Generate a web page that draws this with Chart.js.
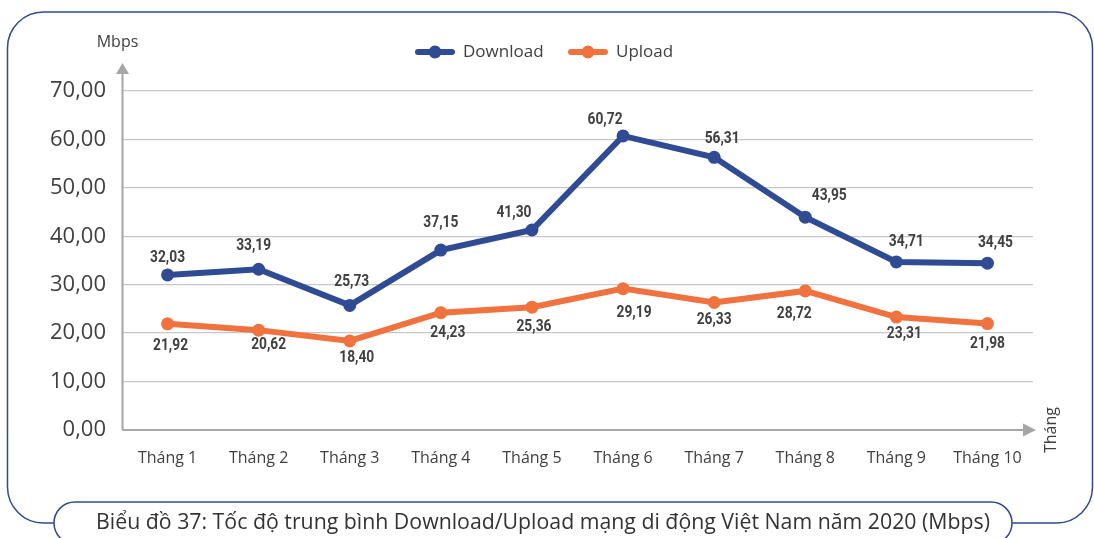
<!DOCTYPE html>
<html>
<head>
<meta charset="utf-8">
<script src="https://cdn.jsdelivr.net/npm/chart.js@4.4.1/dist/chart.umd.min.js"></script>
<style>
  html, body { margin: 0; padding: 0; background: #ffffff; }
  #wrap { width: 1094px; height: 538px; position: relative; }
</style>
</head>
<body>
<div id="wrap"><canvas id="chart" width="1094" height="538"></canvas></div>
<script>
// Monthly average mobile speeds, Vietnam 2020 (Mbps)
const months = ['Tháng 1', 'Tháng 2', 'Tháng 3', 'Tháng 4', 'Tháng 5',
                'Tháng 6', 'Tháng 7', 'Tháng 8', 'Tháng 9', 'Tháng 10'];
const downloadMbps = [32.03, 33.19, 25.73, 37.15, 41.30, 60.72, 56.31, 43.95, 34.71, 34.45];
const uploadMbps   = [21.92, 20.62, 18.40, 24.23, 25.36, 29.19, 26.33, 28.72, 23.31, 21.98];
const yTickValues  = [0, 10, 20, 30, 40, 50, 60, 70];

const seriesNames = ['Download', 'Upload'];
const caption = 'Biểu đồ 37: Tốc độ trung bình Download/Upload mạng di động Việt Nam năm 2020 (Mbps)';
const yUnit = 'Mbps';
const xUnit = 'Tháng';

// Styling
const BLUE = '#2F4B93';
const ORANGE = '#F0733F';
const FRAME = '#2E4A94';
const TEXT = '#404040';
const AXIS = '#A6A6A6';
const GRID = '#C8C8C8';

// Per-point nudges [dx, dy] for the value labels, in pixels
const downloadLabelNudge = [[0,-17],[-5,-23],[2,-23],[0,-27],[-18,-17],[-18,-16],[8,-18],[24,-21],[10,-20],[8,-20]];
const uploadLabelNudge   = [[3,22],[10,15],[7,17],[7,20],[2,20],[11,24],[0,18],[-11,23],[8,17],[0,20]];

const fmt = v => v.toFixed(2).replace('.', ',');

// Rounded outer frame, caption pill and caption text
const framePlugin = {
  id: 'frame',
  beforeDraw(chart) {
    const ctx = chart.ctx;
    ctx.save();
    ctx.fillStyle = '#ffffff';
    ctx.fillRect(0, 0, chart.width, chart.height);

    const L = 7.5, T = 12, R = 1092.5, B = 523, r = 36;
    const pillL = 54, pillR = 1012, pillTop = 502, pr = 21;
    ctx.strokeStyle = FRAME;
    ctx.lineWidth = 1.5;

    ctx.beginPath();
    ctx.moveTo(pillL, B);
    ctx.lineTo(L + r, B);
    ctx.arcTo(L, B, L, B - r, r);
    ctx.lineTo(L, T + r);
    ctx.arcTo(L, T, L + r, T, r);
    ctx.lineTo(R - r, T);
    ctx.arcTo(R, T, R, T + r, r);
    ctx.lineTo(R, B - r);
    ctx.arcTo(R, B, R - r, B, r);
    ctx.lineTo(pillR, B);
    ctx.stroke();

    // caption pill (stadium, cut by the bottom edge)
    ctx.beginPath();
    ctx.arc(pillL + pr, pillTop + pr, pr, Math.PI * 0.5, Math.PI * 1.5);
    ctx.lineTo(pillR - pr, pillTop);
    ctx.arc(pillR - pr, pillTop + pr, pr, Math.PI * 1.5, Math.PI * 2.5);
    ctx.stroke();

    ctx.fillStyle = '#333333';
    ctx.font = '21.3px "Open Sans"';
    ctx.textAlign = 'center';
    ctx.textBaseline = 'middle';
    ctx.fillText(caption, (pillL + pillR) / 2 + 10, 523);
    ctx.restore();
  },
  // axis lines with arrow heads, unit labels
  beforeDatasetsDraw(chart) {
    const ctx = chart.ctx;
    const a = chart.chartArea;
    const x0 = a.left + 0.5, y0 = a.bottom;
    ctx.save();
    ctx.strokeStyle = AXIS;
    ctx.fillStyle = AXIS;
    ctx.lineWidth = 2;
    ctx.beginPath();
    ctx.moveTo(x0, y0);
    ctx.lineTo(x0, a.top - 18);
    ctx.moveTo(x0, y0);
    ctx.lineTo(a.right - 10, y0);
    ctx.stroke();
    ctx.beginPath();
    ctx.moveTo(x0, a.top - 28);
    ctx.lineTo(x0 - 6.5, a.top - 17);
    ctx.lineTo(x0 + 6.5, a.top - 17);
    ctx.closePath();
    ctx.fill();
    ctx.beginPath();
    ctx.moveTo(a.right + 3, y0);
    ctx.lineTo(a.right - 10, y0 - 6.5);
    ctx.lineTo(a.right - 10, y0 + 6.5);
    ctx.closePath();
    ctx.fill();

    ctx.fillStyle = TEXT;
    ctx.font = '16px "Open Sans"';
    ctx.textAlign = 'center';
    ctx.textBaseline = 'middle';
    ctx.fillText(yUnit, x0 - 5, 42);
    ctx.translate(1051, 430);
    ctx.rotate(-Math.PI / 2);
    ctx.fillText(xUnit, 0, 0);
    ctx.restore();
  },
  // value labels beside each point
  afterDatasetsDraw(chart) {
    const ctx = chart.ctx;
    const nudges = [downloadLabelNudge, uploadLabelNudge];
    ctx.save();
    ctx.fillStyle = TEXT;
    ctx.font = 'bold 16px Roboto';
    ctx.textAlign = 'center';
    ctx.textBaseline = 'middle';
    chart.data.datasets.forEach((ds, di) => {
      const meta = chart.getDatasetMeta(di);
      meta.data.forEach((pt, i) => {
        const [dx, dy] = nudges[di][i];
        ctx.save();
        ctx.translate(pt.x + dx, pt.y + dy);
        ctx.scale(0.86, 1);
        ctx.fillText(fmt(ds.data[i]), 0, 0);
        ctx.restore();
      });
    });
    ctx.restore();
  },
  // legend: line sample with dot, then series name
  afterDraw(chart) {
    const ctx = chart.ctx;
    const starts = [415, 568];
    ctx.save();
    chart.data.datasets.forEach((ds, di) => {
      const x = starts[di], y = 52;
      ctx.strokeStyle = ds.borderColor;
      ctx.fillStyle = ds.borderColor;
      ctx.lineWidth = 6;
      ctx.lineCap = 'round';
      ctx.beginPath();
      ctx.moveTo(x + 3, y);
      ctx.lineTo(x + 37, y);
      ctx.stroke();
      ctx.beginPath();
      ctx.arc(x + 20, y, 6.5, 0, Math.PI * 2);
      ctx.fill();
      ctx.fillStyle = TEXT;
      ctx.font = '17px "Open Sans"';
      ctx.textAlign = 'left';
      ctx.textBaseline = 'middle';
      ctx.fillText(ds.label, x + 48, y);
    });
    ctx.restore();
  }
};

new Chart(document.getElementById('chart'), {
  type: 'line',
  data: {
    labels: months,
    datasets: [
      {
        label: seriesNames[0],
        data: downloadMbps,
        borderColor: BLUE,
        backgroundColor: BLUE,
        pointBackgroundColor: BLUE,
        borderWidth: 6,
        pointRadius: 6.5,
        pointBorderWidth: 0,
        tension: 0
      },
      {
        label: seriesNames[1],
        data: uploadMbps,
        borderColor: ORANGE,
        backgroundColor: ORANGE,
        pointBackgroundColor: ORANGE,
        borderWidth: 6,
        pointRadius: 6.5,
        pointBorderWidth: 0,
        tension: 0
      }
    ]
  },
  options: {
    responsive: false,
    animation: false,
    devicePixelRatio: 1,
    layout: { padding: { top: 91, left: 0, right: 61, bottom: 58 } },
    plugins: {
      legend: { display: false },
      tooltip: { enabled: false }
    },
    scales: {
      x: {
        offset: true,
        grid: { display: false, drawTicks: false },
        border: { display: false },
        ticks: {
          color: TEXT,
          font: { family: '"Open Sans"', size: 16 },
          padding: 19,
          maxRotation: 0,
          autoSkip: false
        },
        afterFit(scale) { scale.height = 50; }
      },
      y: {
        min: 0,
        max: 70,
        afterBuildTicks(scale) { scale.ticks = yTickValues.map(v => ({ value: v })); },
        grid: { color: GRID, lineWidth: 1.3, drawTicks: false },
        border: { display: false },
        ticks: {
          color: TEXT,
          font: { family: '"Open Sans"', size: 22 },
          padding: 16,
          callback: v => fmt(v)
        },
        afterFit(scale) { scale.width = 122; }
      }
    }
  },
  plugins: [framePlugin]
});
</script>
</body>
</html>
